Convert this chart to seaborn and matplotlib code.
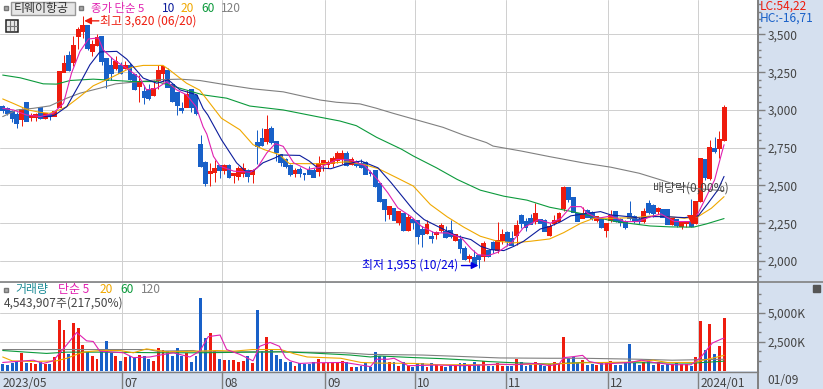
import matplotlib
matplotlib.use("Agg")
import matplotlib.pyplot as plt
from matplotlib.patches import Rectangle
import numpy as np
import pandas as pd
import seaborn as sns

opens = [3022,3009,2989,2967,2938,3044,2951,2956,3016,2945,2967,2962,3022,3250,3359,3315,3492,3521,3558,3388,
3430,3483,3337,3293,3277,3293,3277,3293,3233,3160,3122,3129,3100,3200,3248,3255,3164,3111,3007,3022,
3133,3093,2770,2650,2584,2588,2628,2601,2632,2571,2566,2584,2593,2575,2781,2807,2792,2875,2785,2704,
2671,2628,2580,2601,2577,2599,2595,2595,2645,2639,2650,2668,2684,2710,2644,2657,2644,2646,2584,2595,
2507,2403,2314,2341,2259,2314,2204,2274,2263,2204,2186,2159,2179,2204,2193,2197,2142,2142,2080,2022,
2020,2031,2031,2064,2120,2075,2142,2186,2146,2175,2301,2261,2279,2263,2270,2263,2175,2250,2268,2349,
2482,2416,2312,2288,2334,2318,2272,2272,2206,2272,2323,2272,2261,2312,2294,2272,2265,2378,2365,2334,
2338,2338,2246,2272,2232,2254,2261,2254,2400,2670,2548,2744,2746,2802]
highs = [3031,3018,3000,2989,3011,3044,2982,2982,3022,2982,2978,2989,3255,3366,3388,3492,3550,3620,3558,3461,
3503,3488,3337,3350,3359,3315,3321,3310,3233,3233,3166,3173,3200,3299,3293,3277,3177,3122,3055,3129,
3137,3100,2836,2660,2650,2672,2628,2639,2639,2580,2632,2650,2610,2606,2869,2880,2967,2895,2790,2704,
2682,2639,2617,2623,2577,2632,2617,2693,2671,2671,2695,2728,2732,2728,2690,2668,2677,2662,2602,2602,
2518,2407,2363,2345,2330,2314,2308,2286,2263,2230,2274,2197,2201,2252,2230,2274,2181,2173,2097,2049,
2075,2036,2131,2075,2131,2257,2213,2197,2197,2274,2308,2286,2314,2381,2280,2280,2252,2305,2327,2497,
2488,2416,2320,2360,2345,2334,2299,2283,2254,2338,2327,2283,2272,2398,2305,2290,2349,2404,2378,2356,
2342,2338,2283,2277,2261,2265,2409,2393,2685,2675,2801,2824,2863,3033]
lows = [2978,2967,2922,2878,2894,2929,2929,2929,2938,2938,2933,2960,3018,3250,3255,3288,3403,3476,3399,3355,
3426,3299,3144,3200,3262,3239,3270,3200,3133,3051,3040,3067,3093,3137,3184,3151,3050,2967,2982,3022,
2989,2967,2620,2496,2496,2523,2551,2573,2551,2514,2536,2558,2523,2518,2639,2759,2774,2774,2661,2628,
2617,2562,2558,2558,2536,2573,2555,2562,2595,2617,2624,2650,2639,2628,2633,2624,2617,2573,2566,2491,
2392,2263,2279,2270,2241,2199,2197,2212,2115,2093,2182,2120,2146,2190,2153,2153,2131,2053,2005,1991,
1965,1955,1998,2027,2053,2053,2115,2102,2108,2108,2219,2201,2248,2248,2252,2197,2168,2241,2261,2334,
2393,2323,2264,2283,2290,2272,2261,2217,2162,2261,2261,2232,2210,2272,2250,2246,2254,2310,2290,2310,
2290,2246,2239,2224,2210,2224,2225,2246,2393,2537,2533,2713,2680,2797]
closes = [3000,2978,2949,2916,3000,2929,2960,2967,2945,2973,2960,2984,3250,3306,3266,3421,3532,3558,3410,3432,
3477,3326,3200,3248,3315,3248,3293,3204,3137,3177,3089,3078,3140,3255,3282,3151,3058,3033,3000,3100,
3022,2982,2632,2518,2588,2610,2601,2632,2555,2575,2606,2606,2566,2595,2759,2770,2869,2788,2722,2656,
2628,2573,2599,2584,2573,2577,2555,2645,2665,2650,2677,2706,2708,2633,2668,2633,2622,2573,2580,2496,
2396,2341,2359,2274,2323,2204,2283,2257,2164,2182,2241,2151,2184,2235,2157,2164,2173,2086,2014,2027,
1976,2014,2115,2031,2080,2131,2175,2131,2108,2235,2252,2226,2248,2314,2252,2197,2224,2268,2312,2482,
2409,2327,2268,2312,2294,2283,2294,2224,2246,2299,2265,2257,2228,2283,2265,2265,2327,2323,2316,2342,
2294,2246,2277,2239,2250,2259,2232,2393,2674,2559,2746,2731,2802,3011]
volumes = [560,504,616,840,1540,644,616,560,756,560,560,1176,4396,3556,1456,4144,3696,2184,1624,1260,
1036,1736,2520,1540,1260,840,1176,1260,1120,1344,1232,980,784,1960,1820,1680,1260,1960,1260,1540,
700,1260,6300,2856,3276,1680,1036,924,924,924,756,840,1260,616,5208,1680,2940,1820,1344,980,
700,756,420,616,560,560,756,1008,616,616,616,616,840,756,336,336,420,616,336,1596,
1260,1260,700,700,420,700,420,336,616,616,336,616,504,420,336,504,504,616,616,420,
700,504,784,420,420,672,420,420,420,1036,700,420,504,700,504,420,560,700,560,2940,
1064,1176,616,896,504,560,504,616,616,840,504,504,616,2296,616,504,756,840,504,700,
504,560,560,756,560,560,420,1176,4284,1764,4004,1456,2100,4536]

ma5_day = [0,2.3,5,8,10.7,12.9,14.6,16.4,18.2,20.3,21.3,23.5,26.6,29.1,30.5,32.7,34.8,36.9,39,41,42.5,43.3,44.7,46.1,49,52.5,54,56,57.8,59.5,61.7,64.6,67.2,71,73.8,76.7,79.5,81.7,83.8,86.7,88.8,91.6,94.4,97.3,99.4,100.8,103,105,107.9,110.4,113.6,116.2,118.4,120.5,122.7,124,126.2,129,131.9,134.7,137.5,139.6,142.5,146,147.5,149.6,151,152.4,153]
ma5_val = [3011,3000,2967,2956,2978,3044,3244,3388,3470,3477,3399,3333,3270,3211,3133,3144,3188,3133,3100,3022,2889,2840,2693,2628,2595,2588,2617,2715,2777,2759,2650,2606,2620,2673,2668,2633,2540,2451,2352,2292,2230,2186,2186,2153,2080,2042,2036,2058,2120,2219,2274,2250,2283,2360,2360,2316,2283,2298,2261,2261,2294,2312,2261,2261,2316,2449,2537,2702,2770]
ma10_day = [8,10,11.1,13.6,16.4,18.5,20.6,24.2,26.3,29.8,32.7,35.1,37.6,41.2,42.5,43.5,46.4,49.6,51.7,53.1,55.2,57.7,59,63,65,66.8,69.6,72.4,76,79.6,82.4,87.3,89.4,92.2,96.5,99.3,101.4,103.5,106.3,108.4,110.5,114,116.1,118.4,120.5,123.3,126.8,129,132.6,135.4,137.5,140.4,144.6,147.5,149.6,151.7,153]
ma10_val = [2956,2956,2967,3022,3177,3299,3384,3388,3337,3211,3177,3200,3133,3100,3010,2967,2803,2650,2588,2595,2650,2682,2702,2699,2662,2617,2611,2639,2662,2617,2518,2330,2274,2230,2164,2142,2097,2075,2069,2097,2131,2212,2229,2261,2299,2312,2327,2305,2294,2283,2294,2294,2287,2298,2382,2471,2560]
ma20_day = [0,2.2,5.4,8,10,12,13.6,16.4,19.2,22.8,25.6,27.4,29.8,34,35.5,39,41.8,46.4,50.3,53.1,55.5,58.7,60.8,68,73,76.6,79.7,83.6,87.1,90.7,94.3,97.8,101.3,104.9,108.4,112,116,119,122.6,125.4,129,134,137.5,141,144.6,147.5,150.3,153]
ma20_val = [3073,3044,3000,2984,2978,3000,3022,3089,3160,3211,3255,3282,3295,3295,3262,3177,3131,2945,2869,2770,2737,2704,2645,2644,2657,2639,2611,2551,2496,2374,2292,2224,2164,2131,2120,2131,2146,2188,2250,2283,2283,2287,2298,2294,2283,2294,2349,2426]
ma60_day = [0,3.7,8.6,11.4,14.3,19.2,24,27.7,32.7,37.6,42.5,47.5,52.4,59.5,67.3,71.5,75,79.3,84.6,87.1,92,96.4,101.3,106.3,111.2,116,119.7,123,126.7,130,134.5,137.3,141.5,146.5,149.3,153]
ma60_val = [3231,3213,3173,3171,3195,3204,3195,3188,3188,3144,3100,3078,3026,3000,2952,2927,2896,2819,2740,2695,2617,2540,2469,2429,2403,2356,2334,2312,2283,2261,2243,2232,2226,2224,2246,2281]
ma120_day = [0,3,6.5,10,13.6,16.4,20.6,24,29,33,37.6,41.8,47.5,53,59.5,67.3,70.8,75.8,79.3,82.8,87.8,93.4,97.7,102.6,104,110,116,123.6,129,135,140,143.6,147,153]
ma120_val = [2956,3000,3011,3027,3078,3111,3144,3173,3188,3200,3204,3195,3166,3140,3120,3066,3051,3040,3011,2978,2934,2885,2834,2784,2761,2728,2691,2647,2621,2581,2533,2497,2480,2465]

vma5_day = [0,6.5,8.6,10.7,13.6,15.7,17.8,19.2,20.6,25.6,27.7,31.2,33.4,36.2,39.7,41.8,43.6,46.1,47.5,50.3,53.1,54.5,56.7,58.7,60,61,63,66,72.5,74.7,78,79.3,81.7,83,86,92.4,97.4,101.6,105,108.6,113,116,118,119,121,123,124.4,127,133,135.5,138,142,146,148,150.5,152.5,153]
vma5_val = [700,896,616,840,2240,3304,2576,2520,1680,1540,1120,1176,1344,1540,1176,1680,2940,3080,1820,1400,840,2100,2436,2100,1120,840,616,672,700,560,336,980,980,1064,420,476,420,476,560,504,616,420,560,1120,1204,1316,784,560,700,896,700,504,504,1120,2380,2744,2800]
vma20_day = [0,2,6.5,11.4,13.6,17,20.6,24.9,27.7,30.5,34.8,41,45.4,49,53,59,61.8,64.6,71.7,76,80,87.3,92.4,101.6,116,123,132.5,138,141,146.5,149.5,153]
vma20_val = [1176,840,784,840,1064,1596,1736,1736,1540,1876,1624,1680,1736,1680,1820,1820,1456,1176,1064,700,644,616,504,504,560,672,728,896,700,700,980,1316]
vma60_day = [0,5,9.3,13.6,20.6,34.8,41.8,59,64.6,73.8,78,80,87.3,92.9,99.3,102.8,107,116,123,137,146.5,153]
vma60_val = [1736,1596,1484,1596,1596,1540,1540,1624,1540,1344,1176,1260,1120,1036,896,784,700,560,700,672,644,812]
vma120_day = [0,8,11,20.6,31,32.6,40.4,41.8,59,72.5,77.6,89,96.4,105.5,116,123,135,142,153]
vma120_val = [1820,1820,1820,1820,1820,1680,1736,1624,1624,1540,1400,1344,1232,1092,1064,1064,980,896,980]

month_pos = [-0.4,25.4,46.5,68.4,87.5,106.7,128.4,147.5]
month_lbl = ["2023/05","07","08","09","10","11","12","2024/01"]
price_ticks = [2000,2250,2500,2750,3000,3250,3500]
vol_ticks = [2500,5000]
vol_tick_lbl = ["2,500K","5,000K"]

W, H = 823, 389
RED, BLUE = "#EE1C0E", "#1860C8"
C5, C10, C20, C60, C120 = "#E020B0", "#0C1C9C", "#F0A800", "#0C9A3C", "#808080"
STRIP, GRID, AXC, TXT = "#D5E0EF", "#D0D0D0", "#808080", "#444444"

sns.set_theme(style="white")
plt.rcParams["font.family"] = ["Noto Sans CJK KR", "DejaVu Sans"]

fig = plt.figure(figsize=(W/100, H/100), dpi=100, facecolor=STRIP)
plot_w, top_y, mid_y, bot_y = 758, 282, 283, 371
ax = fig.add_axes([0, 1-top_y/H, plot_w/W, top_y/H])
axv = fig.add_axes([0, 1-bot_y/H, plot_w/W, (bot_y-mid_y)/H])
xlim = (-0.57, 160.2)
LINE = 0.8

df = pd.DataFrame(dict(day=np.arange(len(opens)), o=opens, h=highs, l=lows, c=closes, v=volumes))
df["dir"] = np.where(df.c >= df.o, "up", "down")
pal = {"up": RED, "down": BLUE}

def style(a):
    a.set_facecolor("white")
    a.set_axisbelow(True)
    a.grid(True, axis="both", which="major", color=GRID, lw=0.72)
    for s in ("left", "top", "bottom"):
        a.spines[s].set_visible(False)
    a.spines["right"].set_color(AXC)
    a.spines["right"].set_linewidth(1.4)
    a.yaxis.tick_right()

def crisp(a):
    for p in a.patches:
        p.set_antialiased(False)

# price panel
style(ax)
ax.vlines(df.day, df.l, df.h, colors=df["dir"].map(pal), lw=0.72, zorder=3)
ax.bar(df.day, (df.c-df.o).abs(), bottom=df[["o","c"]].min(axis=1), width=0.62,
       color=df["dir"].map(pal), edgecolor=df["dir"].map(pal), lw=0.3, zorder=3)
for d, v, c in [(ma120_day, ma120_val, C120), (ma60_day, ma60_val, C60), (ma20_day, ma20_val, C20),
                (ma10_day, ma10_val, C10), (ma5_day, ma5_val, C5)]:
    sns.lineplot(x=d, y=v, ax=ax, color=c, lw=LINE, estimator=None, sort=False, errorbar=None, zorder=4)
crisp(ax)
ax.set_xlim(*xlim)
ax.set_ylim(1861, 3728)
ax.set_xticks(month_pos[1:])
ax.set_yticks(price_ticks)
ax.set_yticks(np.arange(1900, 3701, 50), minor=True)
ax.set_yticklabels([f"{t:,}" for t in price_ticks])
ax.tick_params(axis="y", which="major", length=5, width=1, color=AXC, labelsize=8.6, labelcolor=TXT, pad=2, right=True)
ax.tick_params(axis="y", which="minor", length=2.5, width=1, color=AXC, right=True)
ax.tick_params(axis="x", length=0, labelbottom=False)

# annotations inside the price panel
hi_y, lo_y = 3590, 1970
ax.annotate("", xy=(17.3, hi_y), xytext=(20.4, hi_y),
            arrowprops=dict(arrowstyle="-|>", color=RED, lw=1, mutation_scale=10, shrinkA=0, shrinkB=0), zorder=6)
ax.text(20.7, hi_y, "최고 3,620 (06/20)", color=RED, fontsize=8.6, va="center", ha="left", zorder=6)
ax.annotate("", xy=(100.9, lo_y), xytext=(97.3, lo_y),
            arrowprops=dict(arrowstyle="-|>", color="#0000E0", lw=1, mutation_scale=10, shrinkA=0, shrinkB=0), zorder=6)
ax.text(96.6, lo_y, "최저 1,955 (10/24)", color="#0000E0", fontsize=8.6, va="center", ha="right", zorder=6)
ax.text(153.9, 2484, "배당락(0,00%)", color=TXT, fontsize=8.6, va="center", ha="right", zorder=6)
ax.plot([146.2], [2270], marker="v", ms=7, color=RED, mew=0, zorder=6)

# volume panel
style(axv)
sns.barplot(data=df, x="day", y="v", hue="dir", palette=pal, native_scale=True, dodge=False,
            width=0.62, saturation=1, legend=False, ax=axv, linewidth=0, zorder=3)
for d, v, c in [(vma120_day, vma120_val, C120), (vma60_day, vma60_val, C60),
                (vma20_day, vma20_val, C20), (vma5_day, vma5_val, C5)]:
    sns.lineplot(x=d, y=v, ax=axv, color=c, lw=LINE, estimator=None, sort=False, errorbar=None, zorder=4)
crisp(axv)
axv.set_xlim(*xlim)
axv.set_ylim(-40, 7590)
axv.set_xlabel(""); axv.set_ylabel("")
axv.set_yticks(vol_ticks)
axv.set_yticklabels(vol_tick_lbl)
axv.set_yticks([k*2500/3 for k in range(0, 10) if k % 3], minor=True)
axv.tick_params(axis="y", which="major", length=5, width=1, color=AXC, labelsize=8.6, labelcolor=TXT, pad=2, right=True)
axv.tick_params(axis="y", which="minor", length=2.5, width=1, color=AXC, right=True)
axv.set_xticks(month_pos[1:])
axv.set_xticklabels([])
axv.tick_params(axis="x", length=13, width=1, color=AXC, bottom=True)
for p, l in zip(month_pos, month_lbl):
    axv.annotate(l, xy=(p, 0), xycoords=("data", "axes fraction"), xytext=(1.5, -9), textcoords="offset points",
                 fontsize=8.6, color=TXT, ha="left", va="center", annotation_clip=False)

# separators and header furniture, in figure pixels
def fx(x): return x/W
def fy(y): return 1-y/H
fig.add_artist(plt.Line2D([0, 1], [fy(282), fy(282)], color=AXC, lw=1.2, zorder=5))
fig.add_artist(plt.Line2D([0, fx(758)], [fy(371.5), fy(371.5)], color=AXC, lw=1, zorder=5))
fig.add_artist(plt.Line2D([fx(758), fx(758)], [0, 1], color=AXC, lw=1.4, zorder=5))

def box(x, y, w, h, fc, ec, lw=1):
    fig.add_artist(Rectangle((fx(x), fy(y+h)), w/W, h/H, transform=fig.transFigure, fc=fc, ec=ec, lw=lw, zorder=5))
def label(x, y, s, c, size=8.6, ha="left"):
    fig.text(fx(x), fy(y), s, color=c, fontsize=size, va="center", ha=ha, zorder=6)

box(3.5, 6, 4, 4, "#AAAAAA", "#777777")
box(10.5, 2, 64, 13, "#E6E6E6", "#999999")
label(14, 8.5, "티웨이항공", "#333333", 8.6)
box(79, 6, 4, 4, "#AAAAAA", "#777777")
label(91, 8.5, "종가 단순 5", C5, 8.2)
label(162, 8.5, "10", C10)
label(181, 8.5, "20", C20)
label(201, 8.5, "60", C60)
label(221, 8.5, "120", C120)
box(6, 19.5, 12, 12, "#E8E8E8", "#222222", 1.1)
for k in (10, 14):
    fig.add_artist(plt.Line2D([fx(k), fx(k)], [fy(21), fy(30)], color="#777777", lw=0.8, zorder=6))
fig.add_artist(plt.Line2D([fx(7), fx(17)], [fy(25.5), fy(25.5)], color="#777777", lw=0.8, zorder=6))
label(760, 6, "LC:54,22", RED, 8.6)
label(760, 18.5, "HC:-16,71", BLUE, 8.6)

box(3.5, 288, 4, 4, "#AAAAAA", "#777777")
label(15, 289.5, "거래량", "#1E8C96")
label(58, 289.5, "단순 5", C5)
label(100, 289.5, "20", C20)
label(120, 289.5, "60", C60)
label(141, 289.5, "120", C120)
label(4, 303.5, "4,543,907주(217,50%)", TXT)
label(767, 380, "01/09", TXT)
box(813, 285, 7, 7, "#555555", "#555555")

fig.savefig("out.png", dpi=100, facecolor=STRIP)
